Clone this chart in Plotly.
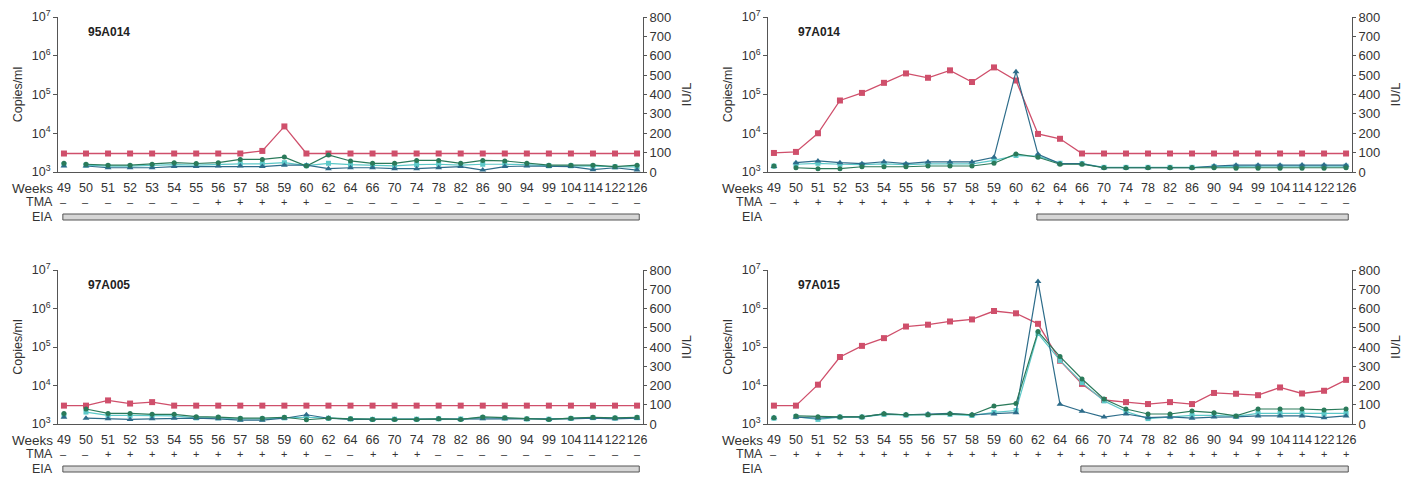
import plotly.graph_objects as go

W, H = 1409, 477

weeks = ["49", "50", "51", "52", "53", "54", "55", "56", "57", "58", "59", "60", "62", "64",
         "66", "70", "74", "78", "82", "86", "90", "94", "99", "104", "114", "122", "126"]

panel_names = ["95A014", "97A014", "97A005", "97A015"]

# HCV RNA, copies/ml (log axis)
rna_95A014 = [3000, 3000, 3000, 3000, 3000, 3000, 3000, 3000, 3000, 3500, 15000, 3000, 3000, 3000,
              3000, 3000, 3000, 3000, 3000, 3000, 3000, 3000, 3000, 3000, 3000, 3000, 3000]
rna_97A014 = [3100, 3300, 10000, 70000, 110000, 200000, 350000, 270000, 420000, 210000, 500000, 230000,
              9600, 7200, 3000, 3000, 3000, 3000, 3000, 3000, 3000, 3000, 3000, 3000, 3000, 3000, 3000]
rna_97A005 = [3000, 3000, 4100, 3400, 3700, 3000, 3000, 3000, 3000, 3000, 3000, 3000, 3000, 3000,
              3000, 3000, 3000, 3000, 3000, 3000, 3000, 3000, 3000, 3000, 3000, 3000, 3000]
rna_97A015 = [3000, 3000, 10500, 55000, 107000, 170000, 340000, 380000, 460000, 520000, 860000, 750000,
              400000, 44000, 11000, 4200, 3700, 3300, 3700, 3300, 6400, 6100, 5600, 8900, 6200, 7300, 14000]

# Enzyme levels, IU/L (linear axis)
tri_95A014 = [31, 31, 22, 22, 22, 28, 28, 31, 31, 28, 35, 35, 17, 22, 22, 17, 17, 22, 28, 10, 28, 31, 28, 28, 12, 22, 10]
cir_95A014 = [45, 40, 35, 35, 40, 48, 44, 48, 65, 65, 77, 31, 88, 57, 45, 45, 60, 60, 45, 60, 57, 45, 35, 35, 35, 28, 35]
sq_95A014 = [38, 35, 30, 30, 33, 38, 36, 40, 42, 42, 48, 33, 45, 38, 34, 32, 38, 40, 36, 40, 40, 38, 32, 32, 30, 27, 26]

tri_97A014 = [28, 48, 57, 48, 43, 53, 43, 52, 52, 52, 76, 518, 91, 43, 43, 22, 22, 22, 22, 22, 31, 35, 35, 35, 36, 36, 35]
cir_97A014 = [31, 22, 17, 17, 27, 27, 27, 31, 31, 31, 45, 93, 76, 40, 40, 22, 22, 22, 22, 22, 22, 20, 20, 20, 20, 20, 22]
sq_97A014 = [30, 40, 45, 40, 38, 42, 38, 42, 42, 42, 60, 85, 82, 45, 43, 24, 24, 24, 24, 24, 28, 30, 30, 30, 30, 30, 30]

tri_97A005 = [35, 30, 27, 24, 27, 30, 30, 27, 20, 20, 30, 48, 30, 24, 24, 24, 24, 27, 24, 27, 27, 24, 24, 27, 30, 27, 30]
cir_97A005 = [55, 78, 55, 55, 50, 50, 38, 36, 30, 30, 35, 22, 30, 27, 24, 24, 24, 27, 24, 37, 33, 27, 24, 30, 35, 32, 35]
sq_97A005 = [45, 62, 45, 45, 42, 42, 32, 32, 26, 26, 32, 35, 30, 26, 24, 25, 25, 27, 26, 33, 31, 26, 25, 29, 33, 30, 33]

tri_97A015 = [33, 35, 30, 37, 37, 53, 48, 52, 55, 48, 52, 59, 740, 102, 66, 36, 52, 33, 37, 30, 36, 37, 42, 42, 42, 33, 42]
cir_97A015 = [33, 42, 38, 37, 37, 53, 48, 48, 53, 48, 93, 107, 480, 350, 234, 130, 78, 52, 52, 67, 59, 42, 78, 78, 78, 73, 78]
sq_97A015 = [30, 38, 24, 36, 36, 50, 46, 48, 50, 44, 60, 70, 470, 330, 215, 120, 65, 28, 38, 45, 45, 40, 55, 55, 55, 52, 55]

tma_95A014 = ["–"] * 7 + ["+"] * 5 + ["–"] * 15
tma_97A014 = ["–"] + ["+"] * 16 + ["–"] * 10
tma_97A005 = ["–", "–"] + ["+"] * 10 + ["–", "–"] + ["+"] * 3 + ["–"] * 10
tma_97A015 = ["–"] + ["+"] * 26

eia_start = ["49", "62", "49", "66"]

rna = [rna_95A014, rna_97A014, rna_97A005, rna_97A015]
tri = [tri_95A014, tri_97A014, tri_97A005, tri_97A015]
cir = [cir_95A014, cir_97A014, cir_97A005, cir_97A015]
sqr = [sq_95A014, sq_97A014, sq_97A005, sq_97A015]
tma = [tma_95A014, tma_97A014, tma_97A005, tma_97A015]

# panel geometry in pixels: (x_left, x_right, y_top, y_bottom)
geo = [(58, 643, 17, 172), (768, 1352, 17, 172), (58, 643, 270, 424), (768, 1352, 270, 424)]

RED = "#cf4f6b"
GREEN = "#2a7a5a"
BLUE = "#2d6c8a"
CYAN = "#5cc8c8"
AX = "#555555"
TXT = "#333333"
FONT = "Liberation Sans, Arial, sans-serif"

idx = list(range(len(weeks)))
XR = [-0.27, len(weeks) - 1 + 0.27]

fig = go.Figure()
annotations = []
shapes = []


def px(x):
    return x / W


def py(y):
    return 1 - y / H


for p in range(4):
    xl, xr, yt, yb = geo[p]
    xa = "x" if p == 0 else f"x{p + 1}"
    yl = "y" if p == 0 else f"y{2 * p + 1}"
    yr = f"y{2 * p + 2}"
    xkey = "xaxis" if p == 0 else f"xaxis{p + 1}"
    ylkey = "yaxis" if p == 0 else f"yaxis{2 * p + 1}"
    yrkey = f"yaxis{2 * p + 2}"

    fig.update_layout(**{
        xkey: dict(domain=[px(xl), px(xr)], anchor=yl, range=XR, tickvals=idx, ticktext=weeks,
                   tickangle=0, automargin=False, showline=True, linecolor=AX, linewidth=1,
                   ticks="outside", ticklen=4, tickcolor="rgba(0,0,0,0)", showgrid=False, zeroline=False,
                   tickfont=dict(size=12.5, color=TXT, family=FONT)),
        ylkey: dict(domain=[py(yb), py(yt)], anchor=xa, type="log", range=[3, 7], automargin=False,
                    tickvals=[1e3, 1e4, 1e5, 1e6, 1e7],
                    ticktext=["10<sup>3</sup>", "10<sup>4</sup>", "10<sup>5</sup>", "10<sup>6</sup>", "10<sup>7</sup>"],
                    showline=True, linecolor=AX, linewidth=1, ticks="outside", ticklen=4, tickcolor=AX,
                    showgrid=False, zeroline=False, tickfont=dict(size=12.5, color=TXT, family=FONT),
                    title=dict(text="Copies/ml", standoff=6, font=dict(size=12.5, color=TXT, family=FONT))),
        yrkey: dict(overlaying=yl, anchor=xa, side="right", range=[0, 800], dtick=100, automargin=False,
                    showline=True, linecolor=AX, linewidth=1, ticks="outside", ticklen=3, tickcolor=AX,
                    showgrid=False, zeroline=False, tickfont=dict(size=13, color=TXT, family=FONT),
                    title=dict(text="IU/L", standoff=11, font=dict(size=13, color=TXT, family=FONT))),
    })

    # enzyme series (week 49 shown as isolated point, line from week 50)
    for vals, col, sym, sz in [(sqr[p], CYAN, "square", 5), (tri[p], BLUE, "triangle-up", 6),
                               (cir[p], GREEN, "circle", 5)]:
        fig.add_trace(go.Scatter(x=idx[1:], y=vals[1:], xaxis=xa, yaxis=yr, mode="lines+markers",
                                 line=dict(color=col, width=1.2),
                                 marker=dict(color=col, symbol=sym, size=sz), showlegend=False))
        fig.add_trace(go.Scatter(x=idx[:1], y=vals[:1], xaxis=xa, yaxis=yr, mode="markers",
                                 marker=dict(color=col, symbol=sym, size=sz), showlegend=False))
    # RNA series
    fig.add_trace(go.Scatter(x=idx, y=rna[p], xaxis=xa, yaxis=yl, mode="lines+markers",
                             line=dict(color=RED, width=1.3),
                             marker=dict(color=RED, symbol="square", size=6), showlegend=False))

    # panel label
    annotations.append(dict(x=px(xl + 28), y=py(yt + 15), xref="paper", yref="paper",
                            text=f"<b>{panel_names[p]}</b>",
                            showarrow=False, xanchor="left", yanchor="middle",
                            font=dict(size=12, color="#222", family=FONT)))
    # row labels
    for lab, dy in [("Weeks", 16), ("TMA", 30), ("EIA", 45)]:
        annotations.append(dict(x=px(xl - 3), y=py(yb + dy), xref="paper", yref="paper", text=lab,
                                showarrow=False, xanchor="right", yanchor="middle",
                                font=dict(size=13.5 if lab == "Weeks" else 12.5, color=TXT, family=FONT)))
    # TMA signs
    for i, s in enumerate(tma[p]):
        annotations.append(dict(x=i, y=py(yb + 30), xref=xa, yref="paper", text=s, showarrow=False,
                                xanchor="center", yanchor="middle",
                                font=dict(size=11, color=TXT, family=FONT)))
    # EIA bar
    s0 = weeks.index(eia_start[p])
    shapes.append(dict(type="rect", xref=xa, yref="paper", x0=s0 - 0.05, x1=len(weeks) - 1 + 0.1,
                       y0=py(yb + 48), y1=py(yb + 42), fillcolor="#d6d6d6",
                       line=dict(color="#555555", width=1)))

fig.update_layout(width=W, height=H, margin=dict(l=0, r=0, t=0, b=0, autoexpand=False),
                  paper_bgcolor="white", plot_bgcolor="white", showlegend=False,
                  annotations=annotations, shapes=shapes, font=dict(family=FONT, color=TXT))

fig.write_html("out.html", config={"displayModeBar": False},
               post_script="document.body.style.margin='0';")
